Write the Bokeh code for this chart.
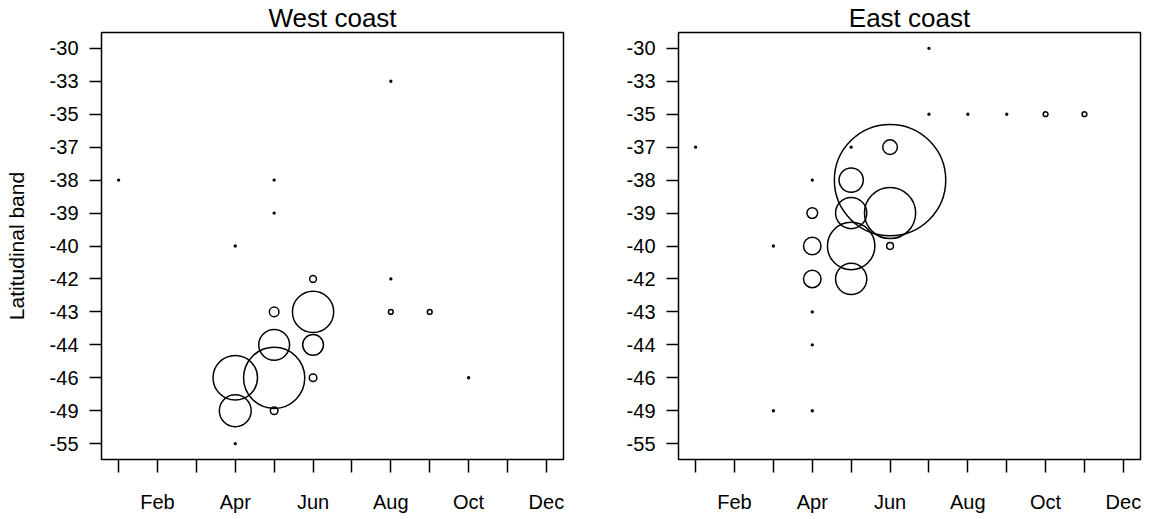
from bokeh.plotting import figure
from bokeh.layouts import row
from bokeh.models import FixedTicker, Range1d, ColumnDataSource
from bokeh.embed import file_html
from bokeh.resources import INLINE
import numpy as np

# ---------------- data ----------------
bands = ["-30", "-33", "-35", "-37", "-38", "-39", "-40",
         "-42", "-43", "-44", "-46", "-49", "-55"]
month_labels = ["", "Feb", "", "Apr", "", "Jun", "", "Aug", "", "Oct", "", "Dec"]

west_month = [1, 4, 5, 5, 8, 8, 10, 4, 6, 5, 6, 5, 6, 4, 5, 6, 4, 5, 8, 9]
west_band = ["-38", "-40", "-38", "-39", "-33", "-42", "-46", "-55",
             "-42", "-43", "-43", "-44", "-44", "-46", "-46", "-46",
             "-49", "-49", "-43", "-43"]
west_value = [0.6, 0.6, 0.6, 0.6, 0.6, 0.6, 0.6, 0.6,
              8, 16, 295, 165, 75, 344, 650, 10, 176, 10, 4, 4]

east_month = [7, 7, 8, 9, 10, 11, 1, 5, 6, 4, 5, 6, 4, 5, 6, 3, 4, 5, 6,
              4, 5, 4, 4, 3, 4]
east_band = ["-30", "-35", "-35", "-35", "-35", "-35", "-37", "-37", "-37",
             "-38", "-38", "-38", "-39", "-39", "-39", "-40", "-40", "-40",
             "-40", "-42", "-42", "-43", "-44", "-49", "-49"]
east_value = [0.6, 0.6, 0.6, 0.6, 4, 4, 0.6, 0.6, 37,
              0.6, 102, 2154, 20, 169, 455, 0.6, 53, 392, 8,
              53, 169, 0.6, 0.6, 0.6, 0.6]

FONT = "Liberation Sans"
N = len(bands)


def panel(title, months, band, values, width, border_left, border_right, ylabel):
    p = figure(width=width, height=519, title=title,
               x_range=Range1d(0.56, 12.44), y_range=Range1d(0.52, N + 0.48),
               output_backend="svg", toolbar_location=None,
               min_border_left=border_left, min_border_right=border_right,
               min_border_top=31, min_border_bottom=60)
    p.grid.visible = False
    p.outline_line_color = "black"
    p.outline_line_width = 1.5
    p.background_fill_color = "white"
    p.border_fill_color = "white"

    p.title.align = "center"
    p.title.text_font = FONT
    p.title.text_font_size = "26px"
    p.title.text_font_style = "normal"
    p.title.text_color = "black"
    p.title.standoff = 0
    p.title.offset = 0

    src = ColumnDataSource(dict(
        x=months,
        y=[N - bands.index(b) for b in band],
        d=[2.4 * np.sqrt(v) for v in values],
    ))
    p.scatter("x", "y", size="d", source=src, marker="circle",
              fill_color=None, line_color="black", line_width=1.5)

    xa = p.xaxis[0]
    xa.ticker = FixedTicker(ticks=list(range(1, 13)))
    xa.major_label_overrides = {i + 1: lab for i, lab in enumerate(month_labels)}
    ya = p.yaxis[0]
    ya.ticker = FixedTicker(ticks=list(range(1, N + 1)))
    ya.major_label_overrides = {N - i: b for i, b in enumerate(bands)}

    for ax in (xa, ya):
        ax.axis_line_color = None
        ax.minor_tick_line_color = None
        ax.major_tick_in = 0
        ax.major_tick_line_color = "black"
        ax.major_tick_line_width = 1.5
        ax.major_label_text_font = FONT
        ax.major_label_text_font_size = "20px"
        ax.major_label_text_color = "black"
    xa.major_tick_out = 13
    xa.major_label_standoff = 18
    ya.major_tick_out = 12
    ya.major_label_standoff = 11

    if ylabel:
        ya.axis_label = ylabel
        ya.axis_label_text_font = FONT
        ya.axis_label_text_font_size = "21px"
        ya.axis_label_text_font_style = "normal"
        ya.axis_label_text_color = "black"
        ya.axis_label_standoff = 19
    return p


p1 = panel("West coast", west_month, west_band, west_value, 585, 101, 22,
           "Latitudinal band")
p2 = panel("East coast", east_month, east_band, east_value, 566, 93, 11, None)

layout = row(p1, p2)
open("out.html", "w").write(file_html(layout, INLINE))
